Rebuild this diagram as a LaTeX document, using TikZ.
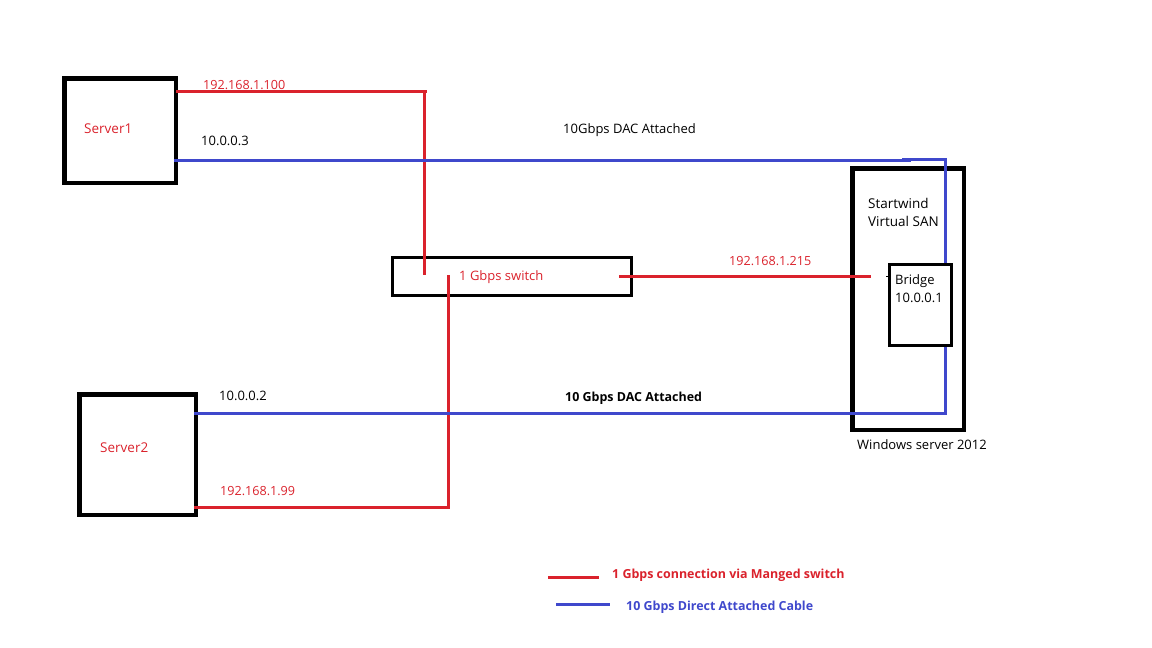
\documentclass[tikz,border=0pt]{standalone}
\usepackage{fontspec}
\setmainfont{Open Sans}
\definecolor{linkred}{RGB}{218,34,44}
\definecolor{linkblue}{RGB}{63,72,204}
\tikzset{
  framebox/.style={draw=black, line width=4.5pt, outer sep=0pt},
  thinbox/.style={draw=black, line width=3pt},
  redlink/.style={draw=linkred, line width=3pt},
  bluelink/.style={draw=linkblue, line width=3pt},
  lbl/.style={anchor=base west, inner sep=0pt, font=\fontsize{13}{18}\selectfont},
  iplbl/.style={lbl, font=\fontsize{12.6}{18}\selectfont},
  widelbl/.style={lbl, font=\fontsize{13.5}{18}\selectfont},
  boldlbl/.style={lbl, font=\fontsize{12.45}{18}\selectfont\bfseries}
}
\begin{document}
\begin{tikzpicture}[x=1pt, y=-1pt]
\useasboundingbox (0,0) rectangle (1152,648);

% ----- Boxes -----
\node[framebox, minimum width=111.5pt, minimum height=104.5pt] (server1) at (120,130.5) {};
\node[framebox, minimum width=116.5pt, minimum height=120.5pt] (server2) at (137.5,454.5) {};
\node[framebox, minimum width=111.5pt, minimum height=261.5pt] (winserver) at (908,299) {};
\node[thinbox, minimum width=239pt, minimum height=38pt] (switch) at (512,276.5) {};
\node[thinbox, minimum width=62pt, minimum height=81pt] (bridge) at (920.5,305) {};

% ----- Free ends of the links -----
\coordinate (redcorner) at (424.5,91);
\coordinate (redin1) at (424.5,275);
\coordinate (redin2) at (448.5,275);
\coordinate (redcorner2) at (448.5,507);
\coordinate (redout) at (619,276);
\coordinate (redend) at (871,276);
\coordinate (bluetop) at (945.5,159.5);
\coordinate (bluebot) at (945.5,413);
\coordinate (bluestep) at (911,160.5);
\coordinate (bluestep2) at (902,159.5);

% ----- 1 Gbps links -----
\draw[redlink] (server1.east |- redcorner) -- ([xshift=2pt]redcorner);
\draw[redlink] ([yshift=-1.5pt]redcorner) -- (redin1);
\draw[redlink] ([xshift=-2pt]server2.east |- redcorner2) -- (redcorner2) -- (redin2);
\draw[redlink] (redout) -- (redend);

% ----- 10 Gbps links -----
\draw[bluelink] ([xshift=-2pt]server1.east |- bluestep) -- (bluestep);
\draw[bluelink] (bluestep2) -- (bluetop) -- (bridge.north -| bluetop);
\draw[bluelink] ([xshift=-2pt]server2.east |- bluebot) -- (bluebot) -- (bridge.south -| bluetop);
\draw[black, line width=0.8pt] (bridge.west |- redend) -- ++(-2,0);

% ----- Labels -----
\node[widelbl, text=linkred] (name1) at (84,133.2) {Server1};
\node[widelbl, text=linkred] (name2) at (100,452.2) {Server2};
\node[iplbl, text=linkred] (ip100) at (203,89.5) {192.168.1.100};
\node[iplbl, text=linkred] (ip99) at (220,495.5) {192.168.1.99};
\node[iplbl, text=linkred] (ip215) at (729,265.5) {192.168.1.215};
\node[lbl, text=linkred] (swname) at (459,280.5) {1 Gbps switch};
\node[lbl] (ip3) at (201,145.5) {10.0.0.3};
\node[lbl] (ip2) at (219,400.5) {10.0.0.2};
\node[lbl] (dac1) at (563,133.5) {10Gbps DAC Attached};
\node[boldlbl] (dac2) at (565,401.5) {10 Gbps DAC Attached};
\node[widelbl] (san1) at (868,208.2) {Startwind};
\node[widelbl] (san2) at (868,226.5) {Virtual SAN};
\node[lbl] (br1) at (895,284) {Bridge};
\node[lbl] (br2) at (895,302) {10.0.0.1};
\node[lbl] (winname) at (857,449.2) {Windows server 2012};

% ----- Legend -----
\coordinate (leg1a) at (548,577);
\coordinate (leg1b) at (599,577);
\coordinate (leg2a) at (556,604);
\coordinate (leg2b) at (610,604);
\draw[redlink] (leg1a) -- (leg1b);
\draw[bluelink] (leg2a) -- (leg2b);
\node[boldlbl, text=linkred] (leg1) at (612,578) {1 Gbps connection via Manged switch};
\node[boldlbl, text=linkblue] (leg2) at (626,610) {10 Gbps Direct Attached Cable};
\end{tikzpicture}
\end{document}
